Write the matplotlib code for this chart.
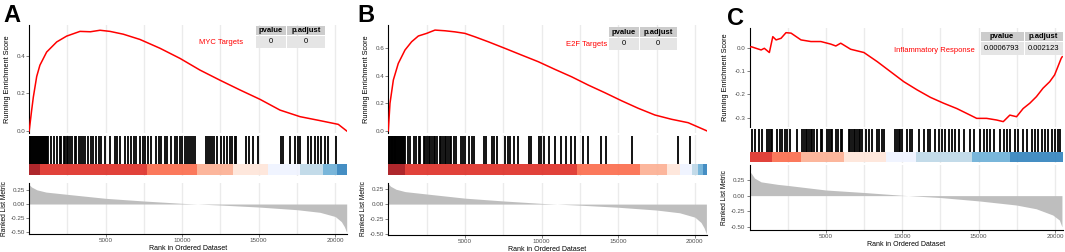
import matplotlib.pyplot as plt
from matplotlib.patches import Rectangle

W, H = 1065, 252
plt.rcParams['font.family'] = ['Liberation Sans', 'DejaVu Sans']

# ---- data ----
# running enrichment score (rank, score)
es_rank_a = [0, 160, 270, 490, 700, 1140, 1800, 2450, 3320, 4000, 4630, 5280, 6150, 7240,
             8550, 9860, 11160, 12470, 13780, 15090, 16390, 17700, 19000, 19660, 20200, 20750]
es_val_a = [0.0, 0.11, 0.18, 0.29, 0.35, 0.42, 0.474, 0.505, 0.53, 0.528, 0.536, 0.53, 0.515, 0.487,
            0.44, 0.386, 0.324, 0.27, 0.218, 0.168, 0.111, 0.076, 0.055, 0.044, 0.035, 0.0]
es_rank_b = [0, 110, 330, 650, 1090, 1520, 1960, 2500, 3045, 3700, 4350, 5000, 5650, 6520,
             7610, 8700, 9780, 10870, 11960, 13040, 14130, 15210, 16300, 17390, 18470, 19560, 20650, 20770]
es_val_b = [0.0, 0.2, 0.37, 0.49, 0.588, 0.648, 0.69, 0.709, 0.733, 0.728, 0.72, 0.709, 0.684, 0.648,
            0.6, 0.551, 0.503, 0.447, 0.393, 0.333, 0.277, 0.219, 0.164, 0.115, 0.084, 0.059, 0.006, 0.0]
es_rank_c = [0, 110, 430, 760, 970, 1300, 1525, 1740, 2065, 2390, 2720, 3370, 4020, 4670, 5320, 5650,
             5970, 6620, 7490, 8360, 9230, 10100, 10970, 11840, 12700, 13570, 14440, 14870, 15520,
             16170, 16610, 17040, 17480, 17910, 18350, 18780, 19210, 19650, 19970, 20190, 20400, 20470]
es_val_c = [0.0, 0.004, -0.003, -0.01, -0.003, -0.021, 0.047, 0.033, 0.04, 0.064, 0.062, 0.033, 0.026,
            0.026, 0.015, 0.007, 0.019, -0.007, -0.021, -0.06, -0.103, -0.146, -0.181, -0.213, -0.238,
            -0.261, -0.289, -0.303, -0.303, -0.31, -0.317, -0.289, -0.296, -0.261, -0.238, -0.21,
            -0.174, -0.146, -0.117, -0.081, -0.046, -0.039]

# gene set hit positions
hits_a = [20, 75, 130, 190, 250, 310, 370, 430, 490, 560, 620, 690, 760, 830, 900, 960, 1030, 1100,
          1170, 1240, 1446, 1621, 1837, 2013, 2098, 2275, 2360, 2451, 2536, 2647, 2817, 2974, 3078,
          3235, 3366, 3516, 3667, 3843, 4019, 4170, 4386, 4543, 4713, 4935, 5262, 5628, 5758, 5915,
          6242, 6458, 6673, 6850, 7000, 7222, 7438, 7549, 7765, 7941, 8307, 8464, 8634, 8857, 9026,
          9249, 9510, 9680, 9837, 9987, 10163, 10333, 10425, 10556, 10686, 10817, 11578, 11687,
          11796, 11948, 12079, 12297, 12515, 12733, 12950, 13103, 13255, 13429, 13538, 14192, 14344,
          14627, 14954, 16479, 16588, 17023, 17350, 17568, 17677, 18222, 18440, 18658, 18876, 19050,
          19311, 19529, 20074]
hits_b = [15, 60, 110, 160, 210, 260, 310, 360, 410, 460, 520, 580, 640, 700, 760, 820, 880, 940,
          1000, 1108, 1265, 1434, 1656, 1828, 1980, 2088, 2306, 2414, 2521, 2630, 2738, 2847, 2956,
          3064, 3173, 3347, 3455, 3564, 3673, 3781, 3890, 3999, 4107, 4259, 4411, 4737, 4867, 5020,
          5237, 5454, 5607, 6215, 6389, 6759, 6911, 7085, 7628, 7780, 7954, 8171, 8432, 9150, 9302,
          9802, 9954, 10171, 10497, 10888, 11258, 11584, 11910, 12193, 12714, 12997, 13866, 14192,
          15887, 18930, 19669]
hits_c = [154, 372, 632, 806, 1176, 1284, 1393, 1502, 1828, 1980, 2154, 2306, 2480, 2632, 3132,
          3458, 3567, 3676, 3784, 3893, 4002, 4110, 4219, 4436, 4654, 4762, 5088, 5197, 5306, 5414,
          5632, 5806, 5958, 6067, 6498, 6610, 6715, 6824, 6933, 7041, 7150, 7259, 7367, 7628, 7802,
          8020, 8346, 8454, 8672, 8780, 9498, 9650, 9759, 9867, 9976, 10325, 10477, 10650, 11083,
          11410, 11693, 11845, 12171, 12388, 12606, 12823, 13040, 13258, 13475, 13692, 14018, 14453,
          14670, 15105, 15320, 15540, 15757, 15974, 16409, 16626, 16843, 17060, 17386, 17602, 17928,
          18145, 18472, 18689, 18906, 19124, 19341, 19558, 19776, 19993, 20210, 20318]

# colour bar segment edges and colours
seg_a = [0, 700, 7680, 10950, 13330, 15620, 17700, 19220, 20100, 20750]
seg_b = [0, 1090, 12280, 16410, 18150, 19020, 19780, 20210, 20540, 20770]
seg_c = [0, 1500, 3370, 6190, 8910, 10870, 14560, 17060, 20500]
cols_a = ['#A50F15', '#DE2D26', '#FB6A4A', '#FCAE91', '#FEE5D9', '#EFF3FF', '#BDD7E7', '#6BAED6', '#3182BD']
cols_b = ['#A50F15', '#DE2D26', '#FB6A4A', '#FCAE91', '#FEE5D9', '#EFF3FF', '#BDD7E7', '#6BAED6', '#3182BD']
cols_c = ['#DE2D26', '#FB6A4A', '#FCAE91', '#FEE5D9', '#EFF3FF', '#BDD7E7', '#6BAED6', '#3182BD']

# ranked list metric
metric_rank = [0, 150, 500, 1100, 2500, 5000, 7500, 10000, 12500, 15000, 17500, 19000, 20000, 20400, 20600, 20750]
metric_val = [0.34, 0.30, 0.25, 0.21, 0.17, 0.10, 0.053, 0.012, -0.018, -0.053, -0.10, -0.146, -0.22, -0.31, -0.40, -0.50]
metric_rank_c = [0, 110, 330, 760, 1850, 2610, 5000, 7500, 10040, 12470, 15030, 17460, 18760, 19850, 20280, 20450]
metric_val_c = [0.38, 0.36, 0.28, 0.22, 0.18, 0.16, 0.09, 0.05, 0.005, -0.03, -0.085, -0.15, -0.21, -0.31, -0.39, -0.50]

names = ['MYC Targets', 'E2F Targets', 'Inflammatory Response']
pvalues = ['0', '0', '0.0006793']
padjust = ['0', '0', '0.002123']
labels = ['A', 'B', 'C']
x_ticks = [5000, 10000, 15000, 20000]
es_ticks = [[0.0, 0.2, 0.4], [0.0, 0.2, 0.4, 0.6], [-0.3, -0.2, -0.1, 0.0]]
metric_ticks = [-0.50, -0.25, 0.00, 0.25]

# ---- layout (pixels) ----
panels = [
    dict(x0=29.2, x1=346.7, xmax=20750, top=(25, 133), ylim_top=(-0.011, 0.564),
         mid=(135, 176), hit_lo=164, bot=(183, 234), ylim_bot=(-0.528, 0.37),
         tab=(255, 286.5, 325, 25, 35, 48.3), lab=(3, 4), name_xy=(243, 42.7)),
    dict(x0=388.3, x1=706.7, xmax=20770, top=(25, 133), ylim_top=(-0.016, 0.77),
         mid=(135, 176), hit_lo=164, bot=(183, 235), ylim_bot=(-0.52, 0.355),
         tab=(608, 639, 677, 26.7, 37.3, 50), lab=(357, 4), name_xy=(607, 45)),
    dict(x0=749.5, x1=1062.7, xmax=20500, top=(28, 127), ylim_top=(-0.34, 0.084),
         mid=(127.5, 163), hit_lo=151.7, bot=(165, 230), ylim_bot=(-0.55, 0.49),
         tab=(980, 1024, 1063.3, 31.7, 41.7, 56), lab=(727, 7), name_xy=(975, 51)),
]
es_ranks = [es_rank_a, es_rank_b, es_rank_c]
es_vals = [es_val_a, es_val_b, es_val_c]
hits_all = [hits_a, hits_b, hits_c]
segs = [seg_a, seg_b, seg_c]
seg_cols = [cols_a, cols_b, cols_c]
m_ranks = [metric_rank, metric_rank, metric_rank_c]
m_vals = [metric_val, metric_val, metric_val_c]

fig = plt.figure(figsize=(W / 100, H / 100), dpi=100)


def box(x0, x1, y0, y1):
    return [x0 / W, 1 - y1 / H, (x1 - x0) / W, (y1 - y0) / H]


def style(ax, xmax):
    ax.set_xlim(0, xmax)
    ax.set_xticks(x_ticks)
    ax.set_xticks([2500, 7500, 12500, 17500], minor=True)
    ax.grid(axis='x', which='both', color='#ebebeb', lw=1.0, zorder=0)
    ax.set_axisbelow(True)
    for s in ['top', 'right']:
        ax.spines[s].set_visible(False)
    ax.tick_params(axis='both', which='both', labelsize=4.5, colors='#4d4d4d', length=2, width=0.5, pad=1)
    ax.tick_params(axis='x', which='minor', length=0)


for i, p in enumerate(panels):
    # running score
    ax = fig.add_axes(box(p['x0'], p['x1'], *p['top']))
    style(ax, p['xmax'])
    ax.plot(es_ranks[i], es_vals[i], color='red', lw=1.1, zorder=3)
    ax.set_ylim(*p['ylim_top'])
    ax.set_yticks(es_ticks[i])
    ax.set_yticklabels(['%.1f' % v for v in es_ticks[i]])
    ax.spines['bottom'].set_visible(False)
    ax.tick_params(axis='x', which='both', bottom=False, labelbottom=False)
    ax.spines['left'].set_linewidth(0.8)
    ax.set_ylabel('Running Enrichment Score', fontsize=5.3, labelpad=4)

    # hits + colour bar
    mid0, mid1 = p['mid']
    frac = (mid1 - p['hit_lo']) / (mid1 - mid0)
    axm = fig.add_axes(box(p['x0'], p['x1'], mid0, mid1))
    style(axm, p['xmax'])
    axm.set_ylim(0, 1)
    axm.set_yticks([])
    axm.spines['left'].set_visible(False)
    axm.spines['bottom'].set_visible(False)
    axm.tick_params(axis='x', which='both', bottom=False, labelbottom=False)
    axm.vlines(hits_all[i], frac, 0.97, color='black', lw=1.3, zorder=3)
    edges = segs[i]
    for j, c in enumerate(seg_cols[i]):
        axm.axvspan(edges[j], edges[j + 1], ymin=0.03, ymax=frac, color=c, alpha=0.9, lw=0, zorder=2)

    # ranked list metric
    axb = fig.add_axes(box(p['x0'], p['x1'], *p['bot']))
    style(axb, p['xmax'])
    axb.fill_between(m_ranks[i], 0, m_vals[i], color='#bebebe', lw=0, zorder=2)
    axb.set_ylim(*p['ylim_bot'])
    axb.set_yticks(metric_ticks)
    axb.set_yticklabels(['%.2f' % v for v in metric_ticks])
    axb.set_xticklabels([str(v) for v in x_ticks])
    axb.spines['left'].set_linewidth(0.8)
    axb.spines['bottom'].set_linewidth(0.8)
    axb.set_ylabel('Ranked List Metric', fontsize=4.8, labelpad=2)
    axb.set_xlabel('Rank in Ordered Dataset', fontsize=5, labelpad=1)

# overlay for panel letters and tables
ov = fig.add_axes([0, 0, 1, 1])
ov.set_xlim(0, W)
ov.set_ylim(H, 0)
ov.axis('off')
for i, p in enumerate(panels):
    lx, ly = p['lab']
    ov.text(lx, ly, labels[i], fontsize=17, fontweight='bold', ha='left', va='top')
    x0, xm, x1, y0, ym, y1 = p['tab']
    for (a, b, yy0, yy1, fc, txt, bold) in [
        (x0, xm, y0, ym, '#cccccc', 'pvalue', True),
        (xm, x1, y0, ym, '#cccccc', 'p.adjust', True),
        (x0, xm, ym, y1, '#e5e5e5', pvalues[i], False),
        (xm, x1, ym, y1, '#e5e5e5', padjust[i], False),
    ]:
        ov.add_patch(Rectangle((a + 0.5, yy0 + 0.5), b - a - 1, yy1 - yy0 - 1, facecolor=fc, edgecolor='none'))
        ov.text((a + b) / 2, (yy0 + yy1) / 2, txt, fontsize=5.5, ha='center', va='center',
                fontweight='bold' if bold else 'normal')
    nx_, ny_ = p['name_xy']
    ov.text(nx_, ny_, names[i], fontsize=5.5, color='red', ha='right', va='center')

fig.savefig('out.png', dpi=100)
